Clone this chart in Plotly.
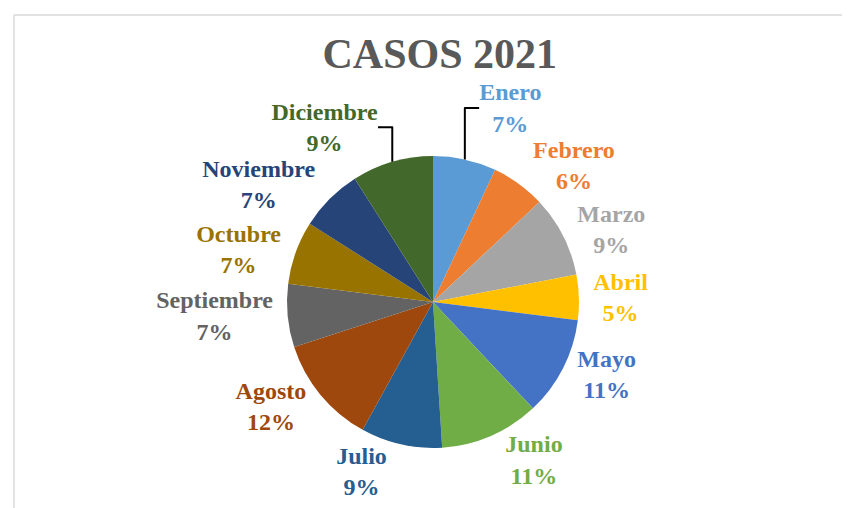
import plotly.graph_objects as go

months = ["Enero", "Febrero", "Marzo", "Abril", "Mayo", "Junio",
          "Julio", "Agosto", "Septiembre", "Octubre", "Noviembre", "Diciembre"]
shares = [7, 6, 9, 5, 11, 11, 9, 12, 7, 7, 7, 9]
colors = ["#5B9BD5", "#ED7D31", "#A5A5A5", "#FFC000", "#4472C4", "#70AD47",
          "#255E91", "#9E480E", "#636363", "#997300", "#264478", "#43682B"]
title_text = "CASOS 2021"
serif = "Liberation Serif, Times New Roman, DejaVu Serif, serif"

fig = go.Figure(go.Pie(
    labels=months,
    values=shares,
    sort=False,
    direction="clockwise",
    rotation=0,
    marker=dict(colors=colors, line=dict(width=0)),
    textposition="outside",
    texttemplate="<b>%{label}<br>%{percent:.0%}</b>",
    outsidetextfont=dict(family=serif, size=24, color=colors),
    hoverinfo="label+percent",
    domain=dict(x=[0.1, 0.9], y=[0.134, 0.7087]),
    automargin=False,
    showlegend=False,
))

fig.update_layout(
    width=850, height=508,
    margin=dict(l=0, r=0, t=0, b=0, autoexpand=False),
    paper_bgcolor="white",
    plot_bgcolor="white",
    title=dict(text="<b>" + title_text + "</b>", x=0.508, xanchor="center",
               y=1 - 60/508, yanchor="bottom", yref="container", xref="container",
               font=dict(family=serif, size=42, color="#595959")),
    font=dict(family=serif),
    shapes=[
        dict(type="line", xref="paper", yref="paper", x0=6/850, x1=6/850, y0=0, y1=1-7/508,
             line=dict(color="#D9D9D9", width=1.5)),
        dict(type="line", xref="paper", yref="paper", x0=6/850, x1=1, y0=1-7/508, y1=1-7/508,
             line=dict(color="#D9D9D9", width=1.5)),
    ],
)

fig.write_html("out.html")
